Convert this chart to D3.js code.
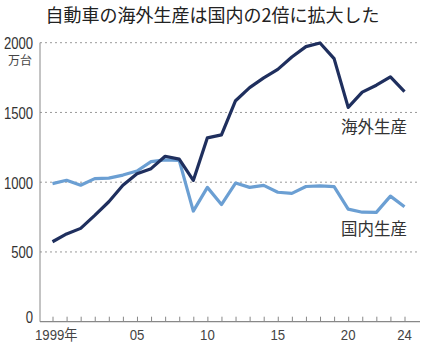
<!DOCTYPE html>
<html><head><meta charset="utf-8">
<script src="https://cdn.jsdelivr.net/npm/d3@7"></script>
<style>
body{margin:0;background:#fff;}
svg{display:block;}
</style></head>
<body>
<script>
const title = "自動車の海外生産は国内の2倍に拡大した";
const unitLabel = "万台";
const years = [1999,2000,2001,2002,2003,2004,2005,2006,2007,2008,2009,2010,2011,2012,2013,2014,2015,2016,2017,2018,2019,2020,2021,2022,2023,2024];
const overseas = [573,629,669,762,860,978,1061,1097,1186,1165,1013,1318,1339,1584,1678,1748,1809,1898,1972,1998,1886,1536,1646,1695,1755,1650];
const domestic = [990,1014,978,1026,1029,1051,1080,1148,1160,1156,793,963,840,994,963,977,928,920,969,973,968,807,785,784,900,824];
const yTicks = [0,500,1000,1500,2000];
const xTickLabels = [[1999,"1999年"],[2005,"05"],[2010,"10"],[2015,"15"],[2020,"20"],[2024,"24"]];
const seriesNames = ["海外生産","国内生産"];

const W = 425, H = 347;
const numFont = "'Liberation Sans','Noto Sans CJK JP',sans-serif";
const jpFont = "'Noto Sans CJK JP',sans-serif";
const svg = d3.select("body").append("svg").attr("width", W).attr("height", H);

const x = d3.scaleLinear().domain([1999, 2024]).range([52.5, 404.5]);
const y = d3.scaleLinear().domain([0, 2000]).range([321.7, 42.7]);
const axisX0 = 40, axisX1 = 420;

svg.append("text").attr("x", 212.5).attr("y", 22).attr("text-anchor", "middle")
  .attr("font-family", jpFont).attr("font-size", 18).attr("fill", "#222").text(title);

// gridlines
svg.append("g").selectAll("line").data(yTicks.filter(d => d > 0)).join("line")
  .attr("x1", axisX0).attr("x2", axisX1)
  .attr("y1", d => y(d)).attr("y2", d => y(d))
  .attr("stroke", "#9a9a9a").attr("stroke-width", 1).attr("stroke-dasharray", "2,3");

// y axis line
svg.append("line").attr("x1", axisX0).attr("x2", axisX0).attr("y1", y(2000)).attr("y2", y(0))
  .attr("stroke", "#888").attr("stroke-width", 1);

// x axis via d3 axis
const xAxis = d3.axisBottom(x).tickValues(years).tickSize(-5).tickFormat("");
const gx = svg.append("g").attr("transform", `translate(0,${y(0)})`).call(xAxis);
gx.select(".domain").remove();
gx.selectAll(".tick line").attr("stroke", "#888");
svg.append("line").attr("x1", axisX0).attr("x2", axisX1).attr("y1", y(0)).attr("y2", y(0))
  .attr("stroke", "#888").attr("stroke-width", 1.2);

// y tick labels (narrow digits)
svg.append("g").selectAll("text").data(yTicks).join("text")
  .attr("transform", d => `translate(33,${y(d) + (d === 0 ? -5 : 0.5)}) scale(0.77,1)`)
  .attr("dy", "0.35em")
  .attr("text-anchor", "end").attr("font-family", numFont).attr("font-size", 17).attr("fill", "#333")
  .text(d => d);
svg.append("text").attr("x", 32).attr("y", 61).attr("dy", "0.35em").attr("text-anchor", "end")
  .attr("font-family", jpFont).attr("font-size", 12).attr("fill", "#444").text(unitLabel);

// x tick labels
svg.append("g").selectAll("text").data(xTickLabels).join("text")
  .attr("transform", d => `translate(${d[0] === 1999 ? 35 : x(d[0])},335) scale(0.88,1)`)
  .attr("dy", "0.35em")
  .attr("text-anchor", d => d[0] === 1999 ? "start" : "middle")
  .attr("font-family", numFont).attr("font-size", 15).attr("fill", "#444")
  .text(d => d[1]);

const line = d3.line().x((d, i) => x(years[i])).y(d => y(d));
svg.append("path").datum(domestic).attr("d", line).attr("fill", "none")
  .attr("stroke", "#6b9fd3").attr("stroke-width", 3.2).attr("stroke-linejoin", "round");
svg.append("path").datum(overseas).attr("d", line).attr("fill", "none")
  .attr("stroke", "#1f2f5e").attr("stroke-width", 3.2).attr("stroke-linejoin", "round");

svg.append("text").attr("x", 407).attr("y", 127).attr("dy", "0.35em").attr("text-anchor", "end")
  .attr("font-family", jpFont).attr("font-size", 16.5).attr("fill", "#333").text(seriesNames[0]);
svg.append("text").attr("x", 407).attr("y", 229).attr("dy", "0.35em").attr("text-anchor", "end")
  .attr("font-family", jpFont).attr("font-size", 16.5).attr("fill", "#333").text(seriesNames[1]);
</script>
</body></html>
